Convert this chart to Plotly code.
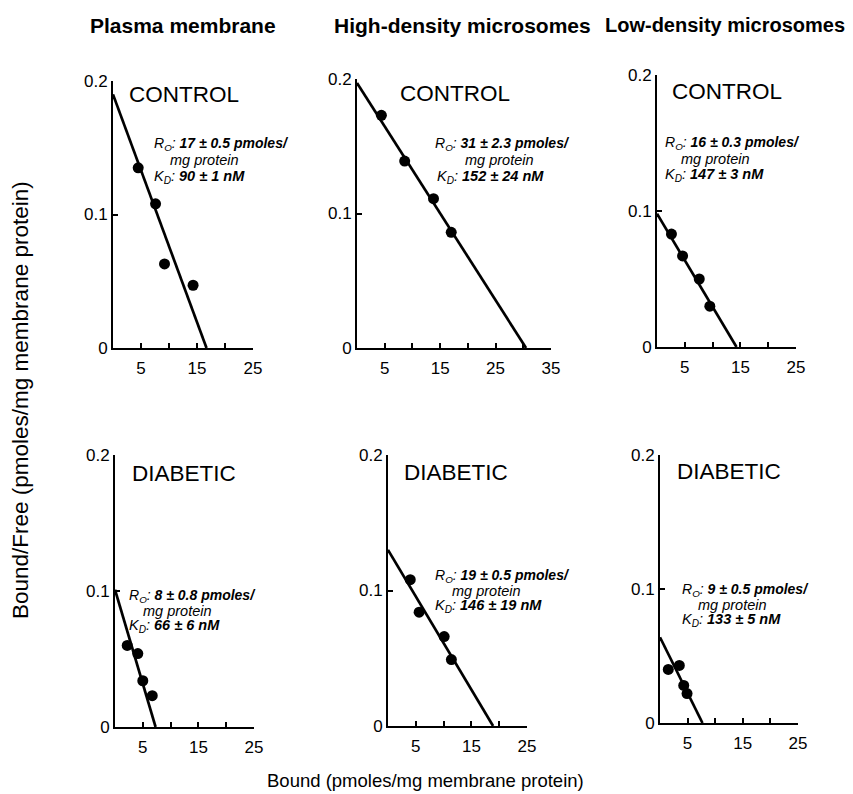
import plotly.graph_objects as go

W, H = 853, 794

# ---------------- data ----------------
col_titles = ["Plasma membrane", "High-density microsomes", "Low-density microsomes"]
group_labels = ["CONTROL", "CONTROL", "CONTROL", "DIABETIC", "DIABETIC", "DIABETIC"]

p1_x = [4.5, 7.6, 9.2, 14.3]
p1_y = [0.135, 0.108, 0.063, 0.047]
p2_x = [4.4, 8.6, 13.8, 17.0]
p2_y = [0.173, 0.139, 0.111, 0.086]
p3_x = [2.6, 4.6, 7.6, 9.5]
p3_y = [0.083, 0.067, 0.050, 0.030]
p4_x = [2.2, 4.1, 5.0, 6.7]
p4_y = [0.060, 0.054, 0.034, 0.023]
p5_x = [4.0, 5.6, 10.1, 11.4]
p5_y = [0.108, 0.084, 0.066, 0.049]
p6_x = [1.5, 3.5, 4.3, 4.9]
p6_y = [0.040, 0.043, 0.028, 0.022]

# fitted Scatchard lines: y-intercept (Bound/Free) and x-intercept (Bound)
fit_y_intercept = [0.19, 0.197, 0.098, 0.101, 0.130, 0.064]
fit_x_intercept = [16.7, 30.5, 14.3, 7.3, 18.9, 7.7]

ro_values = ["17 ± 0.5 pmoles/", "31 ± 2.3 pmoles/", "16 ± 0.3 pmoles/",
             "8 ± 0.8 pmoles/", "19 ± 0.5 pmoles/", "9 ± 0.5 pmoles/"]
kd_values = ["90 ± 1 nM", "152 ± 24 nM", "147 ± 3 nM",
             "66 ± 6 nM", "146 ± 19 nM", "133 ± 5 nM"]

x_max = [25, 35, 25, 25, 25, 25]
x_label_ticks = [[5, 15, 25], [5, 15, 25, 35], [5, 15, 25],
                 [5, 15, 25], [5, 15, 25], [5, 15, 25]]
x_minor_ticks = [[10, 20], [10, 20, 30], [10, 20], [10, 20], [10, 20], [10, 20]]
y_tickvals = [0, 0.1, 0.2]
y_ticktext = ["0", "0.1", "0.2"]

xs = [p1_x, p2_x, p3_x, p4_x, p5_x, p6_x]
ys = [p1_y, p2_y, p3_y, p4_y, p5_y, p6_y]

# ---------------- layout geometry (target pixels in the 853x794 picture) ----------------
panel_px = [
    (113, 253, 81, 348),
    (357, 551, 79, 348),
    (657, 796, 75, 347),
    (115, 254, 455, 727),
    (388, 527, 455, 726),
    (660, 798, 455, 723),
]
label_px = [(127, 94), (398, 93), (670, 92), (130, 473), (402, 472), (675, 471)]
ro_px = [(152, 144), (433, 144), (663, 143), (127, 596), (433, 576), (680, 590)]
mg_px = [(168, 160), (463, 160), (679, 159), (141, 611), (450, 591), (696, 605)]
kd_px = [(152, 177), (435, 177), (663, 175), (127, 626), (433, 606), (680, 620)]
title_px = [(183, 25, 21), (462, 25, 21), (725, 25, 20)]

# the page body has an 8px margin, so the figure starts 8px right and down
OFF = 8

def fx(px):
    return (px - OFF) / W

def fy(py):
    return 1 - (py - OFF) / H

FONT = "Liberation Sans, Arial, Helvetica, sans-serif"

fig = go.Figure()
layout = dict(
    width=W, height=H, autosize=False,
    margin=dict(l=0, r=0, t=0, b=0, pad=0, autoexpand=False),
    paper_bgcolor="white", plot_bgcolor="white",
    showlegend=False,
    font=dict(family=FONT, color="black"),
)
annotations = []

for i in range(6):
    n = "" if i == 0 else str(i + 1)
    xa, ya = "x" + n, "y" + n
    L, R, T, B = panel_px[i]
    fig.add_trace(go.Scatter(
        x=[0, fit_x_intercept[i]], y=[fit_y_intercept[i], 0],
        mode="lines", line=dict(color="black", width=2.7),
        xaxis=xa, yaxis=ya, hoverinfo="skip"))
    fig.add_trace(go.Scatter(
        x=xs[i], y=ys[i], mode="markers",
        marker=dict(color="black", size=11),
        xaxis=xa, yaxis=ya, cliponaxis=False))
    layout["xaxis" + n] = dict(
        domain=[fx(L), fx(R)], anchor=ya, range=[0, x_max[i]],
        showline=True, linecolor="black", linewidth=1.8,
        ticks="inside", ticklen=5, tickwidth=1.5, tickcolor="black",
        tickmode="array", tickvals=x_label_ticks[i],
        minor=dict(tickmode="array", tickvals=x_minor_ticks[i], ticks="inside",
                   ticklen=5, tickwidth=1.5, tickcolor="black", showgrid=False),
        tickfont=dict(size=17, family=FONT, color="black"),
        ticklabelstandoff=4, automargin=False,
        showgrid=False, zeroline=False, fixedrange=True)
    layout["yaxis" + n] = dict(
        domain=[fy(B), fy(T)], anchor=xa, range=[0, 0.2],
        showline=True, linecolor="black", linewidth=1.8,
        ticks="inside", ticklen=5, tickwidth=1.5, tickcolor="black",
        tickvals=y_tickvals, ticktext=y_ticktext,
        tickfont=dict(size=17, family=FONT, color="black"),
        automargin=False,
        showgrid=False, zeroline=False, fixedrange=True)

    lx, ly = label_px[i]
    annotations.append(dict(text=group_labels[i], x=fx(lx), y=fy(ly), xref="paper", yref="paper",
                            xanchor="left", yanchor="middle", showarrow=False,
                            font=dict(size=22.5, family=FONT, color="black")))
    rx, ry = ro_px[i]
    annotations.append(dict(text="<i>R<sub>O</sub>: <b>" + ro_values[i] + "</b></i>",
                            x=fx(rx), y=fy(ry), xref="paper", yref="paper",
                            xanchor="left", yanchor="middle", showarrow=False,
                            font=dict(size=14, family=FONT, color="black")))
    mx, my = mg_px[i]
    annotations.append(dict(text="<i>mg protein</i>",
                            x=fx(mx), y=fy(my), xref="paper", yref="paper",
                            xanchor="left", yanchor="middle", showarrow=False,
                            font=dict(size=14.5, family=FONT, color="black")))
    kx, ky = kd_px[i]
    annotations.append(dict(text="<i>K<sub>D</sub>: <b>" + kd_values[i] + "</b></i>",
                            x=fx(kx), y=fy(ky), xref="paper", yref="paper",
                            xanchor="left", yanchor="middle", showarrow=False,
                            font=dict(size=14.5, family=FONT, color="black")))

for j, t in enumerate(col_titles):
    tx, ty, ts = title_px[j]
    annotations.append(dict(text="<b>" + t + "</b>", x=fx(tx), y=fy(ty), xref="paper", yref="paper",
                            xanchor="center", yanchor="middle", showarrow=False,
                            font=dict(size=ts, family=FONT, color="black")))

annotations.append(dict(text="Bound (pmoles/mg membrane protein)", x=fx(425), y=fy(780),
                        xref="paper", yref="paper", xanchor="center", yanchor="middle",
                        showarrow=False, font=dict(size=18.5, family=FONT, color="black")))
annotations.append(dict(text="Bound/Free (pmoles/mg membrane protein)", x=fx(20), y=fy(400),
                        xref="paper", yref="paper", xanchor="center", yanchor="middle",
                        textangle=-90, showarrow=False,
                        font=dict(size=22.5, family=FONT, color="black")))

layout["annotations"] = annotations
fig.update_layout(**layout)
fig.write_html("out.html")
